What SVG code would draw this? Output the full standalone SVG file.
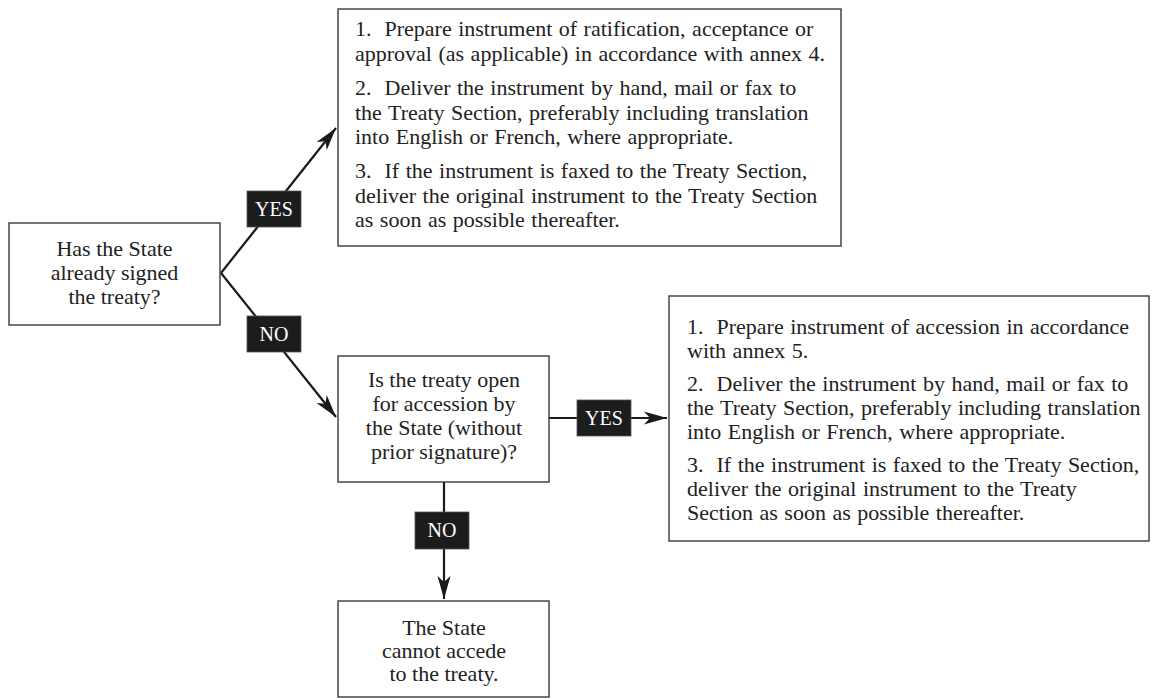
<svg xmlns="http://www.w3.org/2000/svg" width="1158" height="699" viewBox="0 0 1158 699">
  <style>
    .box { fill: #ffffff; stroke: #3a3a3a; stroke-width: 1.4; }
    .txt { font-family: "Liberation Serif", "Times New Roman", serif; font-size: 22px; fill: #222222; }
    .step { word-spacing: 1px; white-space: pre; }
    .mid { text-anchor: middle; }
    .conn { fill: none; stroke: #1a1a1a; stroke-width: 2.2; }
    .tag { fill: #1c1c1c; stroke: #555555; stroke-width: 0.8; }
    .tagtxt { font-family: "Liberation Serif", "Times New Roman", serif; font-size: 20px; fill: #ffffff; text-anchor: middle; }
  </style>
  <defs>
    <marker id="arrow" viewBox="-24 -7 25 14" refX="0" refY="0" markerWidth="25" markerHeight="14" markerUnits="userSpaceOnUse" orient="auto">
      <path d="M0,0 L-23,-6.5 L-17,0 L-23,6.5 Z" fill="#1a1a1a"/>
    </marker>
  </defs>
  <rect width="1158" height="699" fill="#ffffff"/>

  <!-- connectors -->
  <g id="connectors">
    <path class="conn" d="M221,273 L336,128" marker-end="url(#arrow)"/>
    <path class="conn" d="M221,273 L336,417" marker-end="url(#arrow)"/>
    <path class="conn" d="M549,418 L667,418" marker-end="url(#arrow)"/>
    <path class="conn" d="M444,482 L444,599" marker-end="url(#arrow)"/>
  </g>

  <!-- branch labels -->
  <g id="label-yes-1">
    <rect class="tag" x="247" y="191" width="54" height="36"/>
    <text class="tagtxt" x="274" y="216">YES</text>
  </g>
  <g id="label-no-1">
    <rect class="tag" x="247" y="316" width="54" height="36"/>
    <text class="tagtxt" x="274" y="341">NO</text>
  </g>
  <g id="label-yes-2">
    <rect class="tag" x="577" y="400" width="54" height="36"/>
    <text class="tagtxt" x="604" y="425">YES</text>
  </g>
  <g id="label-no-2">
    <rect class="tag" x="415" y="512" width="54" height="37"/>
    <text class="tagtxt" x="442" y="537">NO</text>
  </g>

  <!-- question: signed? -->
  <g id="node-signed">
    <rect class="box" x="9" y="223" width="211" height="102"/>
    <text class="txt mid" x="114.5" y="256">Has the State</text>
    <text class="txt mid" x="114.5" y="280">already signed</text>
    <text class="txt mid" x="114.5" y="304">the treaty?</text>
  </g>

  <!-- ratification steps -->
  <g id="node-ratify">
    <rect class="box" x="338" y="9" width="503" height="237"/>
    <text class="txt step" x="355" y="36">1.  Prepare instrument of ratification, acceptance or</text>
    <text class="txt step" x="355" y="60.5">approval (as applicable) in accordance with annex 4.</text>
    <text class="txt step" x="355" y="95">2.  Deliver the instrument by hand, mail or fax to</text>
    <text class="txt step" x="355" y="119.5">the Treaty Section, preferably including translation</text>
    <text class="txt step" x="355" y="144">into English or French, where appropriate.</text>
    <text class="txt step" x="355" y="178">3.  If the instrument is faxed to the Treaty Section,</text>
    <text class="txt step" x="355" y="202.5">deliver the original instrument to the Treaty Section</text>
    <text class="txt step" x="355" y="227">as soon as possible thereafter.</text>
  </g>

  <!-- question: open for accession? -->
  <g id="node-open">
    <rect class="box" x="338" y="356" width="211" height="126"/>
    <text class="txt mid" x="444" y="387">Is the treaty open</text>
    <text class="txt mid" x="444" y="411">for accession by</text>
    <text class="txt mid" x="444" y="435">the State (without</text>
    <text class="txt mid" x="444" y="459">prior signature)?</text>
  </g>

  <!-- accession steps -->
  <g id="node-accede">
    <rect class="box" x="669" y="296" width="480" height="245"/>
    <text class="txt step" x="687" y="334">1.  Prepare instrument of accession in accordance</text>
    <text class="txt step" x="687" y="358">with annex 5.</text>
    <text class="txt step" x="687" y="391">2.  Deliver the instrument by hand, mail or fax to</text>
    <text class="txt step" x="687" y="415">the Treaty Section, preferably including translation</text>
    <text class="txt step" x="687" y="439">into English or French, where appropriate.</text>
    <text class="txt step" x="687" y="472">3.  If the instrument is faxed to the Treaty Section,</text>
    <text class="txt step" x="687" y="496">deliver the original instrument to the Treaty</text>
    <text class="txt step" x="687" y="520">Section as soon as possible thereafter.</text>
  </g>

  <!-- outcome: cannot accede -->
  <g id="node-cannot">
    <rect class="box" x="338" y="601" width="211" height="96"/>
    <text class="txt mid" x="444" y="635">The State</text>
    <text class="txt mid" x="444" y="658">cannot accede</text>
    <text class="txt mid" x="444" y="681">to the treaty.</text>
  </g>
</svg>
